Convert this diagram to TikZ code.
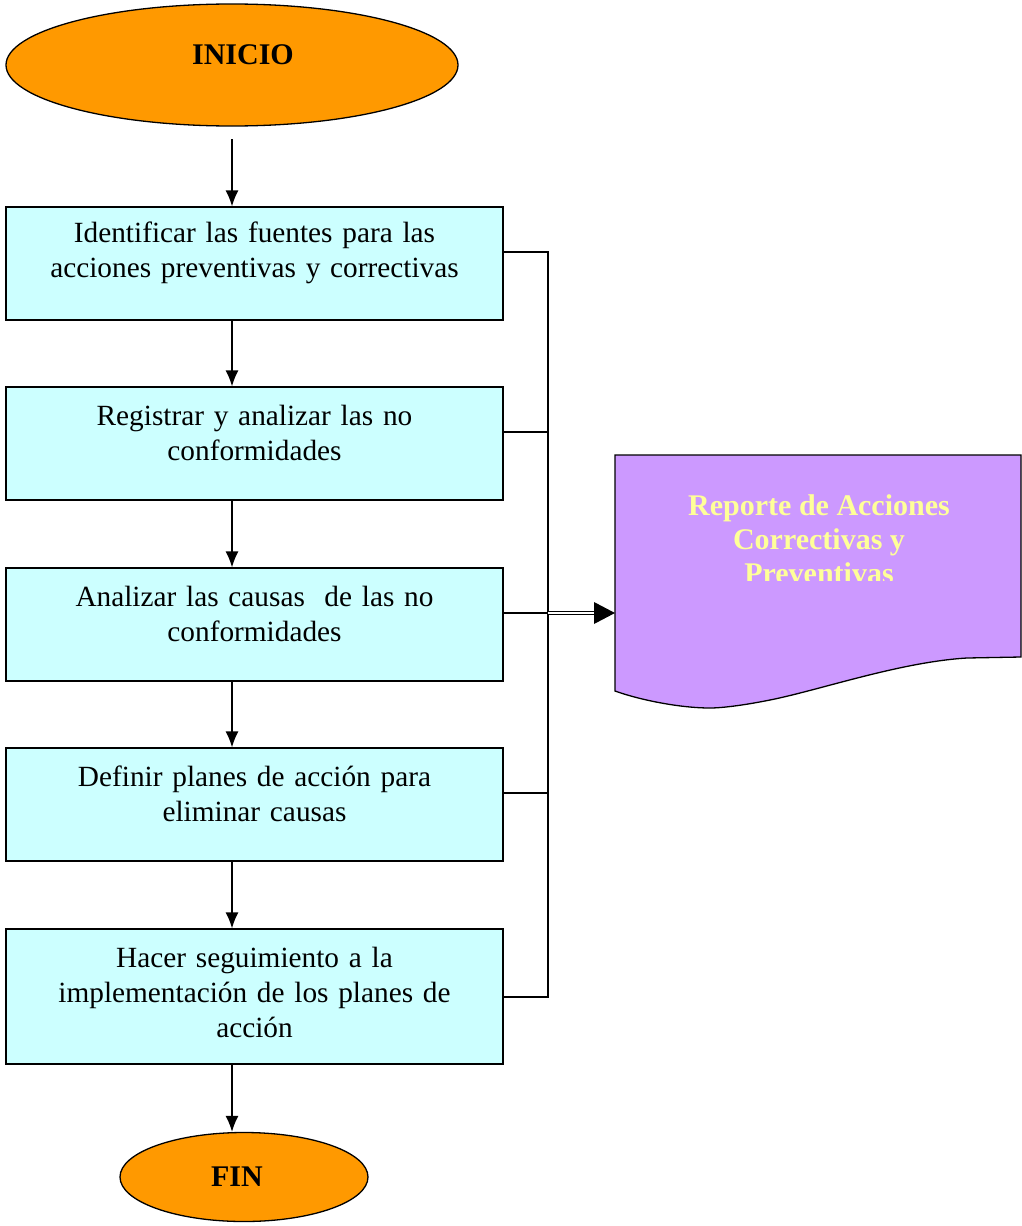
\documentclass[tikz,border=0pt]{standalone}
\usepackage{fontspec}
\setmainfont{Liberation Serif}
\usetikzlibrary{shapes.geometric,calc,arrows.meta}
\definecolor{boxcyan}{HTML}{CCFFFF}
\definecolor{ovorange}{HTML}{FF9900}
\definecolor{docpurple}{HTML}{CC99FF}
\definecolor{doctext}{HTML}{FFFF99}
\tikzset{
  stepbox/.style={draw=black, line width=1.3pt, fill=boxcyan, minimum width=497pt, inner sep=0pt},
  steptxt/.style={align=center, text width=490pt, inner sep=0pt, font=\fontsize{29.3}{35}\selectfont},
  term/.style={ellipse, draw=black, line width=1.3pt, fill=ovorange, inner sep=0pt},
  termtxt/.style={inner sep=0pt, font=\fontsize{30}{34}\selectfont\bfseries},
  flow/.style={line width=1.3pt, -{Latex[length=16pt,width=13pt]}},
  bus/.style={line width=1.3pt},
}
\begin{document}
\begin{tikzpicture}[x=1pt,y=-1pt]
\useasboundingbox (0,0) rectangle (1021,1226);
% terminals
\node[term, minimum width=452pt, minimum height=122pt] (ini) at (232,65) {};
\node[termtxt] (initxt) at (243,55) {INICIO};
\node[term, minimum width=248pt, minimum height=89pt] (fin) at (244,1177) {};
\node[termtxt] (fintxt) at (237,1177) {FIN};
% boxes
\node[stepbox, minimum height=113pt] (b1) at (254.5,263.5) {};
\node[stepbox, minimum height=113pt] (b2) at (254.5,443.5) {};
\node[stepbox, minimum height=113pt] (b3) at (254.5,624.5) {};
\node[stepbox, minimum height=113pt] (b4) at (254.5,804.5) {};
\node[stepbox, minimum height=135pt] (b5) at (254.5,996.5) {};
\node[steptxt] (t1) at (254.5,252.5) {Identificar las fuentes para las\\acciones preventivas y correctivas};
\node[steptxt] (t2) at (254.5,432.5) {Registrar y analizar las no\\conformidades};
\node[steptxt] (t3) at (254.5,613.5) {Analizar las causas\ \ de las no\\conformidades};
\node[steptxt] (t4) at (254.5,793.5) {Definir planes de acción para\\eliminar causas};
\node[steptxt] (t5) at (254.5,992) {Hacer seguimiento a la\\implementación de los planes de\\acción};
% vertical flow
\coordinate (s0) at (232,139);
\draw[flow] (s0) -- (s0 |- b1.north);
\draw[flow] (b1.south -| s0) -- (b2.north -| s0);
\draw[flow] (b2.south -| s0) -- (b3.north -| s0);
\draw[flow] (b3.south -| s0) -- (b4.north -| s0);
\draw[flow] (b4.south -| s0) -- (b5.north -| s0);
\draw[flow] (b5.south -| s0) -- (fin.north -| s0);
% bus
\coordinate (c1) at (548,252);
\coordinate (c2) at (548,432);
\coordinate (c3) at (548,613);
\coordinate (c4) at (548,793);
\coordinate (c5) at (548,997);
\draw[bus] (b1.east |- c1) -- (c1) -- (c5) -- (b5.east |- c5);
\draw[bus] (b2.east |- c2) -- (c2);
\draw[bus] (b3.east |- c3) -- (c3);
\draw[bus] (b4.east |- c4) -- (c4);
% document
\draw[line width=1.3pt, fill=docpurple] (615,455) -- (1021,455) -- (1021,657) -- (967,658)
  .. controls (900,662) and (820,690) .. (770,700)
  .. controls (740,706) and (720,708) .. (710,708)
  .. controls (680,708) and (640,700) .. (615,691) -- cycle;
\coordinate (docin) at (615,613);
\begin{scope}
\clip (615,470) rectangle (1021,580.5);
\node[align=center, inner sep=0pt, text=doctext, font=\fontsize{30}{34}\selectfont\bfseries] (doct) at (819,539) {Reporte de Acciones\\Correctivas y\\Preventivas};
\end{scope}
% double arrow
\coordinate (tipbase) at (594,613);
\draw[line width=1.2pt, double, double distance=2.5pt] (c3) -- (tipbase);
\fill (docin) -- ($(tipbase)+(0,-11)$) -- ($(tipbase)+(0,11)$) -- cycle;
\end{tikzpicture}
\end{document}
